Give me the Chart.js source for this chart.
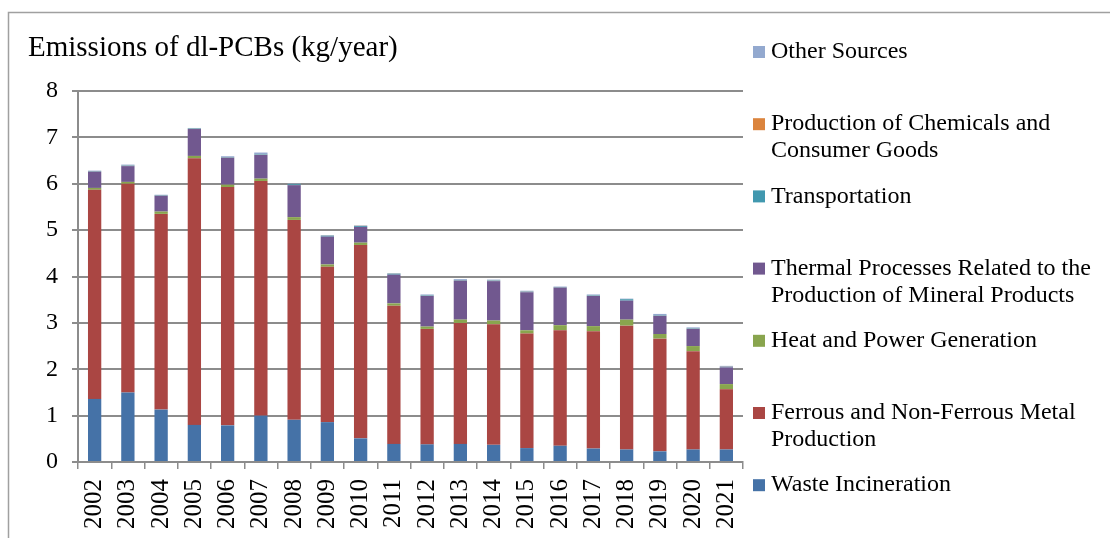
<!DOCTYPE html>
<html>
<head>
<meta charset="utf-8">
<script src="https://cdn.jsdelivr.net/npm/chart.js@4.4.1/dist/chart.umd.min.js"></script>
<style>
    body { margin: 0; background: #fff; }
    #contenedor { width: 1110px; height: 538px; position: relative; }
</style>
</head>
<body>
<div id="contenedor"><canvas id="graficoPCB"></canvas></div>
<script>
//Datos
const anios = ['2002','2003','2004','2005','2006','2007','2008','2009','2010','2011','2012','2013','2014','2015','2016','2017','2018','2019','2020','2021'];
const ticksY = [0, 1, 2, 3, 4, 5, 6, 7, 8];

const wasteIncineration = [1.36,1.50,1.13,0.80,0.79,1.00,0.91,0.86,0.51,0.39,0.38,0.39,0.37,0.30,0.35,0.29,0.27,0.23,0.27,0.27];
const ferrousMetal = [4.51,4.50,4.22,5.75,5.14,5.06,4.31,3.35,4.17,2.98,2.49,2.61,2.60,2.47,2.49,2.53,2.67,2.43,2.12,1.30];
const heatPower = [0.04,0.04,0.05,0.05,0.05,0.05,0.06,0.05,0.05,0.05,0.05,0.07,0.08,0.07,0.11,0.11,0.13,0.10,0.11,0.11];
const thermalMineral = [0.35,0.34,0.34,0.58,0.58,0.51,0.69,0.60,0.34,0.62,0.66,0.84,0.85,0.82,0.81,0.65,0.41,0.39,0.37,0.36];
const transportation = [0.01,0.01,0.01,0.01,0.01,0.01,0.02,0.02,0.02,0.02,0.01,0.01,0.01,0.01,0.01,0.01,0.03,0.01,0.01,0.01];
const chemicalsGoods = [0.003,0.003,0.003,0.003,0.003,0.003,0.003,0.003,0.003,0.003,0.003,0.003,0.003,0.003,0.003,0.003,0.003,0.003,0.003,0.003];
const otherSources = [0.01,0.02,0.01,0.01,0.02,0.04,0.01,0.01,0.01,0.01,0.02,0.02,0.02,0.02,0.01,0.02,0.01,0.03,0.02,0.02];

const fuente = '"Liberation Serif", "Times New Roman", serif';
const gris = '#8c8c8c';

//Titulo, marco y leyenda dibujados a mano
const pluginMarco = {
    id: 'marco',
    beforeDraw(chart) {
        const { ctx } = chart;
        ctx.save();
        ctx.strokeStyle = '#a0a0a0';
        ctx.lineWidth = 1.5;
        ctx.beginPath();
        ctx.moveTo(8.5, 538);
        ctx.lineTo(8.5, 12.5);
        ctx.lineTo(1110, 12.5);
        ctx.stroke();
        ctx.fillStyle = '#000';
        ctx.font = '29px ' + fuente;
        ctx.textBaseline = 'alphabetic';
        ctx.fillText('Emissions of dl-PCBs (kg/year)', 28, 56);
        ctx.restore();
    },
    afterDraw(chart) {
        const { ctx } = chart;
        const sets = chart.data.datasets.slice().reverse();
        ctx.save();
        ctx.font = '24px ' + fuente;
        ctx.textBaseline = 'middle';
        sets.forEach((ds, i) => {
            const y = 52 + i * 72.2;
            ctx.fillStyle = ds.backgroundColor;
            ctx.fillRect(753, y - 6, 12, 12);
            ctx.fillStyle = '#000';
            //partir la etiqueta en lineas
            const palabras = ds.label.split(' ');
            let linea = '';
            let fila = 0;
            palabras.forEach(p => {
                const prueba = linea ? linea + ' ' + p : p;
                if (ctx.measureText(prueba).width > 330 && linea) {
                    ctx.fillText(linea, 771, y + fila * 27);
                    linea = p;
                    fila++;
                } else {
                    linea = prueba;
                }
            });
            ctx.fillText(linea, 771, y + fila * 27);
        });
        ctx.restore();
    }
};

const datos = {
    labels: anios,
    datasets: [
        { label: 'Waste Incineration', data: wasteIncineration, backgroundColor: '#4572A7' },
        { label: 'Ferrous and Non-Ferrous Metal Production', data: ferrousMetal, backgroundColor: '#AA4643' },
        { label: 'Heat and Power Generation', data: heatPower, backgroundColor: '#89A54E' },
        { label: 'Thermal Processes Related to the Production of Mineral Products', data: thermalMineral, backgroundColor: '#71588F' },
        { label: 'Transportation', data: transportation, backgroundColor: '#4198AF' },
        { label: 'Production of Chemicals and Consumer Goods', data: chemicalsGoods, backgroundColor: '#DB843D' },
        { label: 'Other Sources', data: otherSources, backgroundColor: '#93A9CF' }
    ]
};

const config = {
    type: 'bar',
    data: datos,
    options: {
        responsive: true,
        maintainAspectRatio: false,
        animation: false,
        barPercentage: 0.4,
        categoryPercentage: 1,
        layout: { padding: { left: 8, top: 91, right: 367, bottom: 0 } },
        plugins: {
            legend: { display: false },
            title: { display: false },
            tooltip: { enabled: false }
        },
        scales: {
            x: {
                stacked: true,
                afterFit: s => { s.height = 76; },
                grid: { drawOnChartArea: false, offset: true, color: gris, lineWidth: 1.5, tickLength: 7 },
                border: { color: gris, width: 2 },
                ticks: { color: '#000', font: { family: fuente, size: 25 }, minRotation: 90, maxRotation: 90, padding: 10, autoSkip: false }
            },
            y: {
                stacked: true,
                min: 0,
                max: 8,
                afterFit: s => { s.width = 70; },
                afterBuildTicks: s => { s.ticks = ticksY.map(v => ({ value: v })); },
                grid: { color: gris, lineWidth: 2, tickLength: 6 },
                border: { color: gris, width: 2 },
                ticks: { color: '#000', font: { family: fuente, size: 24 }, padding: 14 }
            }
        }
    },
    plugins: [pluginMarco]
};

new Chart(document.getElementById('graficoPCB'), config);//Crea el grafico
</script>
</body>
</html>
